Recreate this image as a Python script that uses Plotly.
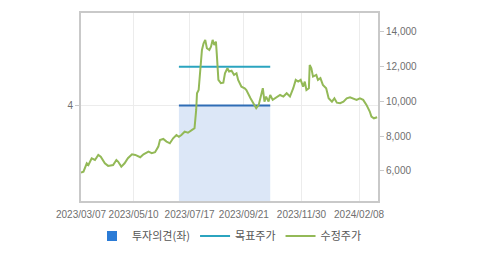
import plotly.graph_objects as go

# ---- data ----
price_dates = [
    "2023-03-07", "2023-03-10", "2023-03-14", "2023-03-16", "2023-03-20", "2023-03-24",
    "2023-03-28", "2023-03-31", "2023-04-05", "2023-04-09", "2023-04-15", "2023-04-19",
    "2023-04-21", "2023-04-25", "2023-04-29", "2023-05-03", "2023-05-08", "2023-05-12",
    "2023-05-18", "2023-05-22", "2023-05-28", "2023-06-01", "2023-06-05", "2023-06-09",
    "2023-06-11", "2023-06-15", "2023-06-19", "2023-06-23", "2023-06-27", "2023-07-01",
    "2023-07-04", "2023-07-07", "2023-07-11", "2023-07-15", "2023-07-20", "2023-07-23",
    "2023-07-25", "2023-07-26", "2023-07-28", "2023-07-30", "2023-08-01", "2023-08-03",
    "2023-08-05", "2023-08-07", "2023-08-10", "2023-08-12", "2023-08-14", "2023-08-16",
    "2023-08-18", "2023-08-19", "2023-08-21", "2023-08-24", "2023-08-27", "2023-08-29",
    "2023-09-01", "2023-09-03", "2023-09-06", "2023-09-09", "2023-09-12", "2023-09-14",
    "2023-09-18", "2023-09-22", "2023-09-24", "2023-09-29", "2023-10-02", "2023-10-06",
    "2023-10-09", "2023-10-12", "2023-10-14", "2023-10-16", "2023-10-18", "2023-10-21",
    "2023-10-23", "2023-10-26", "2023-10-29", "2023-11-04", "2023-11-08", "2023-11-12",
    "2023-11-16", "2023-11-20", "2023-11-23", "2023-11-26", "2023-11-29", "2023-12-02",
    "2023-12-04", "2023-12-06", "2023-12-09", "2023-12-10", "2023-12-12", "2023-12-14",
    "2023-12-18", "2023-12-20", "2023-12-23", "2023-12-26", "2023-12-30", "2024-01-02",
    "2024-01-06", "2024-01-09", "2024-01-12", "2024-01-16", "2024-01-20", "2024-01-24",
    "2024-01-28", "2024-02-01", "2024-02-05", "2024-02-09", "2024-02-13", "2024-02-17",
    "2024-02-21", "2024-02-23", "2024-02-26", "2024-03-01",
]
price_values = [
    5900, 5960, 6440, 6340, 6730, 6630,
    6920, 6820, 6440, 6290, 6340, 6630,
    6540, 6250, 6440, 6730, 6960, 6920,
    6790, 6960, 7110, 7020, 7080, 7400,
    7780, 7840, 7690, 7590, 7880, 8070,
    7970, 8070, 8260, 8200, 8360, 8460,
    9510, 10470, 10660, 11810, 12960, 13350,
    13540, 13060, 12960, 13150, 13540, 13250,
    13440, 12770, 11240, 11050, 11080, 11620,
    11910, 11720, 11770, 11530, 11620, 11240,
    10850, 10760, 10660, 10180, 9900, 9610,
    9800, 10370, 10760, 9990, 10280, 9990,
    10370, 10090, 10180, 10370, 10280, 10470,
    10280, 10760, 11240, 11140, 11240, 10850,
    11140, 10660, 10760, 12100, 11910, 11430,
    11530, 11240, 11340, 10950, 10760, 10180,
    9990, 10180, 9930, 9900, 9990, 10180,
    10240, 10180, 10090, 10180, 10090, 9800,
    9420, 9130, 9030, 9090,
]

opinion_dates = ["2023-07-04", "2023-10-23"]
opinion_values = [4, 4]

target_dates = ["2023-07-04", "2023-10-23"]
target_values = [12000, 12000]

x_tick_vals = ["2023-03-07", "2023-05-10", "2023-07-17", "2023-09-21", "2023-11-30", "2024-02-08"]
x_tick_text = ["2023/03/07", "2023/05/10", "2023/07/17", "2023/09/21", "2023/11/30", "2024/02/08"]
y2_tick_vals = [6000, 8000, 10000, 12000, 14000]
y2_tick_text = ["6,000", "8,000", "10,000", "12,000", "14,000"]
y_tick_vals = [4]
y_tick_text = ["4"]

# ---- styles ----
FONT = "Liberation Sans, Arial, Noto Sans CJK KR, sans-serif"
AXIS_COLOR = "#c9c9c9"
GRID_COLOR = "#ececec"
TICK_FONT = dict(family=FONT, size=10, color="#6f6f6f")

fig = go.Figure()

# opinion area (left axis)
fig.add_trace(go.Scatter(
    x=opinion_dates, y=opinion_values, mode="lines",
    line=dict(color="#2f6db5", width=2),
    fill="tozeroy", fillcolor="#dce7f7",
    showlegend=False, hoverinfo="skip", yaxis="y",
))
# legend entry for opinion
fig.add_trace(go.Scatter(
    x=[None], y=[None], mode="markers", name="투자의견(좌)",
    marker=dict(symbol="square", size=10, color="#2b7bd6"),
    yaxis="y",
))
# target price
fig.add_trace(go.Scatter(
    x=target_dates, y=target_values, mode="lines", name="목표주가",
    line=dict(color="#2ba4bf", width=2), yaxis="y2",
))
# adjusted price
fig.add_trace(go.Scatter(
    x=price_dates, y=price_values, mode="lines", name="수정주가",
    line=dict(color="#93b957", width=2), yaxis="y2",
))

fig.update_layout(
    width=479, height=255,
    margin=dict(l=81, r=101, t=13, b=54, autoexpand=False),
    paper_bgcolor="white", plot_bgcolor="white",
    font=dict(family=FONT, size=11, color="#555555"),
    xaxis=dict(
        type="date", range=["2023-03-07", "2024-03-02"],
        tickvals=x_tick_vals, ticktext=x_tick_text, tickfont=TICK_FONT,
        showgrid=True, gridcolor=GRID_COLOR, gridwidth=1,
        showline=True, linecolor=AXIS_COLOR, linewidth=2, mirror=True,
        ticks="", zeroline=False, automargin=False, ticklabelstandoff=3,
    ),
    yaxis=dict(
        range=[0, 7.87], tickvals=y_tick_vals, ticktext=y_tick_text,
        tickfont=TICK_FONT, showgrid=True, gridcolor=GRID_COLOR,
        showline=True, linecolor=AXIS_COLOR, linewidth=2, mirror=True,
        ticks="outside", ticklen=4, tickcolor=AXIS_COLOR, zeroline=False,
        automargin=False,
    ),
    yaxis2=dict(
        range=[4270, 15090], overlaying="y", side="right",
        tickvals=y2_tick_vals, ticktext=y2_tick_text, tickfont=TICK_FONT,
        showgrid=False, showline=True, linecolor=AXIS_COLOR, linewidth=2,
        ticks="outside", ticklen=4, tickcolor=AXIS_COLOR, zeroline=False,
        automargin=False,
    ),
    legend=dict(
        orientation="h", x=0.5, xanchor="center", y=-0.186, yanchor="middle",
        font=dict(family="Noto Sans CJK KR, sans-serif", size=11, color="#555555"),
        itemwidth=30, tracegroupgap=0, bgcolor="rgba(0,0,0,0)",
    ),
    showlegend=True,
)

fig.write_html("out.html")
